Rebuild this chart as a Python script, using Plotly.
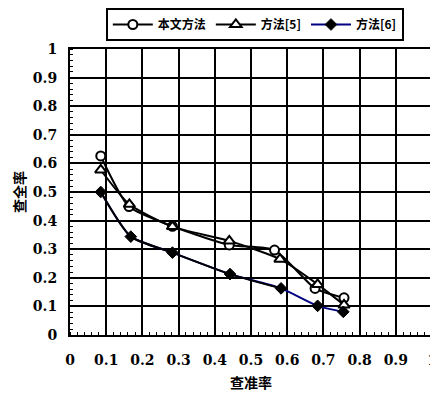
import plotly.graph_objects as go

# Data
x_ours = [0.085, 0.163, 0.283, 0.44, 0.565, 0.677, 0.757]
y_ours = [0.626, 0.449, 0.38, 0.315, 0.297, 0.163, 0.13]

x_m5 = [0.085, 0.164, 0.283, 0.44, 0.58, 0.684, 0.757]
y_m5 = [0.577, 0.457, 0.379, 0.329, 0.265, 0.177, 0.105]

x_m6 = [0.085, 0.168, 0.283, 0.442, 0.583, 0.684, 0.755]
y_m6 = [0.50, 0.344, 0.288, 0.213, 0.163, 0.102, 0.081]

names = ["本文方法", "方法[5]", "方法[6]"]
x_title = "查准率"
y_title = "查全率"
ticks = [0, 0.1, 0.2, 0.3, 0.4, 0.5, 0.6, 0.7, 0.8, 0.9, 1]
tick_text = ["0", "0.1", "0.2", "0.3", "0.4", "0.5", "0.6", "0.7", "0.8", "0.9", "1"]

FONT = "DejaVu Serif"
CJK = "Noto Sans CJK SC"

fig = go.Figure()
fig.add_trace(go.Scatter(
    x=x_ours, y=y_ours, name=names[0], mode="lines+markers",
    line=dict(color="black", width=2, shape="spline", smoothing=0.6),
    marker=dict(symbol="circle", size=9, color="white", line=dict(color="black", width=2)),
))
fig.add_trace(go.Scatter(
    x=x_m5, y=y_m5, name=names[1], mode="lines+markers",
    line=dict(color="black", width=2, shape="spline", smoothing=0.6),
    marker=dict(symbol="triangle-up", size=10, color="white", line=dict(color="black", width=2)),
))
# method [6]: navy line, with the early segment drawn black as in the reference
fig.add_trace(go.Scatter(
    x=x_m6, y=y_m6, mode="lines",
    line=dict(color="#000080", width=2, shape="spline", smoothing=0.6),
    showlegend=False,
))
fig.add_trace(go.Scatter(
    x=x_m6[:5], y=y_m6[:5], mode="lines",
    line=dict(color="black", width=2, shape="spline", smoothing=0.6),
    showlegend=False,
))
fig.add_trace(go.Scatter(
    x=x_m6, y=y_m6, mode="markers",
    marker=dict(symbol="diamond", size=9, color="black", line=dict(color="black", width=1)),
    showlegend=False,
))
# legend entry for method [6]
fig.add_trace(go.Scatter(
    x=[None], y=[None], name=names[2], mode="lines+markers",
    line=dict(color="#000080", width=2),
    marker=dict(symbol="diamond", size=9, color="black", line=dict(color="black", width=1)),
))

axis_common = dict(
    range=[0, 1], tickvals=ticks, ticktext=tick_text,
    showgrid=True, gridcolor="black", gridwidth=2,
    showline=True, linecolor="black", linewidth=2, mirror=True,
    zeroline=False, ticks="", automargin=False, ticklabeloverflow="allow",
    minor=dict(ticks="inside", dtick=0.02, ticklen=3, tickcolor="black", tickwidth=1, showgrid=False),
    tickfont=dict(family=FONT, size=14, color="black", weight="bold"),
    fixedrange=True,
)
fig.update_xaxes(**axis_common, ticklabelstandoff=11)
fig.update_yaxes(**axis_common, ticklabelstandoff=8)

title_font = dict(family=CJK, size=14, color="black", weight="bold")
fig.add_annotation(text=x_title, xref="paper", yref="paper", x=0.5, y=-0.164,
                   xanchor="center", yanchor="middle", showarrow=False, font=title_font)
fig.add_annotation(text=y_title, xref="paper", yref="paper", x=-0.141, y=0.5,
                   xanchor="center", yanchor="middle", showarrow=False, textangle=-90, font=title_font)

# page body has an 8px margin, so the figure is sized/offset to compensate
fig.update_layout(
    width=430, height=385,
    margin=dict(l=62, r=6, t=41, b=58, autoexpand=False),
    paper_bgcolor="white", plot_bgcolor="white",
    showlegend=True,
    legend=dict(
        orientation="h", xref="container", yref="container",
        x=0.574, xanchor="center", y=1.0, yanchor="top",
        bordercolor="black", borderwidth=2, bgcolor="white",
        font=dict(family=CJK, size=12, color="black", weight="bold"),
        itemwidth=40, tracegroupgap=0,
    ),
)

fig.write_html("out.html")
